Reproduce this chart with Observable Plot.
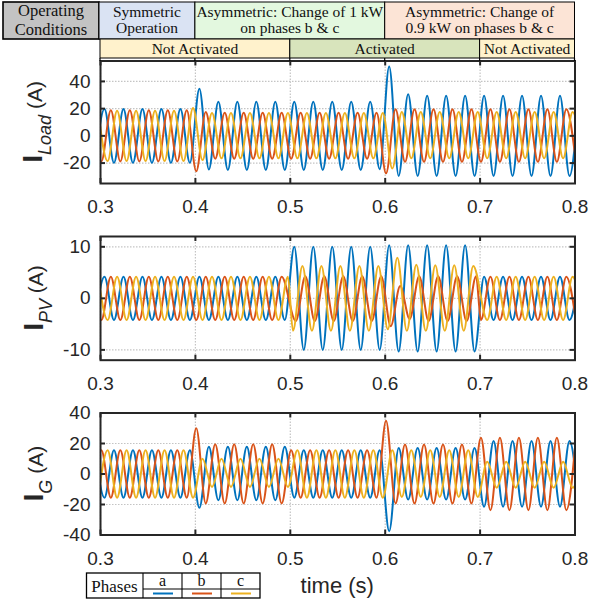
<!DOCTYPE html>
<html><head><meta charset="utf-8">
<script src="https://cdn.jsdelivr.net/npm/d3@7"></script>
<script src="https://cdn.jsdelivr.net/npm/@observablehq/plot@0.6"></script>
<style>
body{margin:0;background:#fff;}
#wrap{position:relative;width:597px;height:603px;overflow:hidden;background:#fff;}
#wrap svg{position:absolute;left:0;}
</style></head><body><div id="wrap"></div>
<script>
// ---- values ----
const HALF = 0.01; // half period of the 50 Hz waveforms (s)
const phases = ["a", "b", "c"];
const phaseColors = ["#0072BD", "#D95319", "#EDB120"];
const xTicks = [0.3, 0.4, 0.5, 0.6, 0.7, 0.8];
const yTicksLoad = [-20, 0, 20, 40];
const yTicksPV = [-10, 0, 10];
const yTicksG = [-40, -20, 0, 20, 40];
const conditionBounds = [0.3, 0.4, 0.6, 0.8];
const conditionLabels = [["Symmetric", "Operation"], ["Asymmetric: Change of 1 kW", "on phases b & c"], ["Asymmetric: Change of", "0.9 kW on phases b & c"]];
const conditionFills = ["#dae3f3", "#e3f8df", "#fce4d6"];
const controlBounds = [0.3, 0.5, 0.7, 0.8];
const controlLabels = ["Not Activated", "Activated", "Not Activated"];
const controlFills = ["#fff2cc", "#d8e4bc", "#fff2cc"];

// successive extrema (peaks / troughs) of each phase current, A
const loadA_start = 0.2942;
const loadA = [-19.8, 19.8, -19.8, 19.8, -19.8, 19.8, -19.8, 19.8, -19.8, 19.8, -19.8,
  34.6, -24.7,
  25, -25, 25, -25, 25, -25, 25, -25, 25, -25, 25, -25, 25, -25, 25, -25, 25,
  -24.5,
  51, -29.4, 30.5,
  -29.5, 29.5, -29.5, 29.5, -29.5, 29.5, -29.5, 29.5, -29.5, 29.5, -29.5, 29.5, -29.5, 29.5, -29.5, 29.5, -29.5, 29.5];
const loadB_start = 0.2909;
const loadB = [18.8, -18.8, 18.8, -18.8, 18.8, -18.8, 18.8, -18.8, 18.8, -18.8, 18.8,
  -26,
  17.5, -16.8, 17, -16.8, 17, -16.8, 17, -16.8, 17, -16.8, 17, -16.8, 17, -16.8, 17, -16.8, 17, -16.8, 17,
  -27.5,
  19.5, -19, 19.5, -19, 19.5, -19, 19.5, -19, 19.5, -19, 19.5, -19, 19.5, -19, 19.5, -19, 19.5, -19, 19.5, -19];
const loadC_start = 0.2975;
const loadC = [18.5, -18.5, 18.5, -18.5, 18.5, -18.5, 18.5, -18.5, 18.5, -18.5,
  20.5, -17.8,
  16.8, -16.5, 16.8, -16.5, 16.8, -16.5, 16.8, -16.5, 16.8, -16.5, 16.8, -16.5, 16.8, -16.5, 16.8, -16.5, 16.8, -16.5, 16.8,
  -24,
  17.5, -16.5, 17.5, -16.5, 17.5, -16.5, 17.5, -16.5, 17.5, -16.5, 17.5, -16.5, 17.5, -16.5, 17.5, -16.5, 17.5, -16.5, 17.5, -16.5];

const pvA_start = 0.2942;
const pvA = [-4.2, 4.2, -4.2, 4.2, -4.2, 4.2, -4.2, 4.2, -4.2, 4.2, -4.2, 4.2, -4.2, 4.2, -4.2, 4.2, -4.2, 4.2, -4.2, 4.2, -4.2,
  10, -10, 10, -10, 10, -10, 10, -10, 10, -10,
  10.3, -10.3, 10.3, -10.3, 10.3, -10.3, 10.3, -10.3, 10.3, -10.3,
  4.2, -4.2, 4.2, -4.2, 4.2, -4.2, 4.2, -4.2, 4.2, -4.2, 4.2];
const pvB1_start = 0.2909;
const pvB1 = [4.2, -4.2, 4.2, -4.2, 4.2, -4.2, 4.2, -4.2, 4.2, -4.2, 4.2, -4.2, 4.2, -4.2, 4.2, -4.2, 4.2, -4.2, 4.2, -4.2, 4.2];
const pvB2_start = 0.5058;
const pvB2 = [-4.4, 4.3, -4.4, 4.3, -4.4, 4.3, -4.4, 4.3, -4.4, 4.3, -5.4, 2.4, -4.0, 4.3, -4.4, 4.3, -4.4, 4.3, -4.4, 4.3];
const pvB3_start = 0.7009;
const pvB3 = [-4.2, 4.2, -4.2, 4.2, -4.2, 4.2, -4.2, 4.2, -4.2, 4.2, -4.2];
const pvC1_start = 0.2975;
const pvC1 = [4.2, -4.2, 4.2, -4.2, 4.2, -4.2, 4.2, -4.2, 4.2, -4.2, 4.2, -4.2, 4.2, -4.2, 4.2, -4.2, 4.2, -4.2, 4.2, -4.2, 4.2];
const pvC2_start = 0.5028;
const pvC2 = [-6.3, 6.3, -6.3, 6.3, -6.3, 6.3, -6.3, 6.3, -6.3, 6.3, -6.0, 7.9, -6.3, 6.5, -6.3, 6.4, -6.3, 6.4, -6.3, 6.3];
const pvC3_start = 0.7075;
const pvC3 = [-4.2, 4.2, -4.2, 4.2, -4.2, 4.2, -4.2, 4.2, -4.2, 4.2, -4.2];

const gridA_start = 0.2942;
const gridA = [15.5, -15.5, 15.5, -15.5, 15.5, -15.5, 15.5, -15.5, 15.5, -15.5, 15.5,
  -22.2,
  17.8, -17.2, 17.8, -17.2, 17.8, -17.2, 17.8, -17.2, 17.8,
  -15.5, 15.5, -15.5, 15.5, -15.5, 15.5, -15.5, 15.5, -15.5, 15.5,
  -37.5,
  17, -16.8, 17, -16.8, 17, -16.8, 17, -16.8, 17,
  -21.5, 21.7, -21.5, 21.7, -21.5, 21.7, -21.5, 21.7, -21.5, 21.7, -21.5];
const gridB_start = 0.2909;
const gridB = [-15.5, 15.5, -15.5, 15.5, -15.5, 15.5, -15.5, 15.5, -15.5, 15.5, -15.5,
  30,
  -19.3, 19.5, -19.3, 19.5, -19.3, 19.5, -19.3, 19.5, -19.3,
  15.5, -15.5, 15.5, -15.5, 15.5, -15.5, 15.5, -15.5, 15.5, -15.5,
  35,
  -19.3, 19.3, -19.3, 19.3, -19.3, 19.3, -19.3, 19.3, -19.3,
  23.7, -23.7, 23.7, -23.7, 23.7, -23.7, 23.7, -23.7, 23.7, -23.7, 23.7];
const gridC_start = 0.2975;
const gridC = [-15.5, 15.5, -15.5, 15.5, -15.5, 15.5, -15.5, 15.5, -15.5, 15.5, -15.5,
  10, -8.5, 10, -8.5, 10, -8.5, 10, -8.5, 10, -8.5,
  15.5, -15.5, 15.5, -15.5, 15.5, -15.5, 15.5, -15.5, 15.5, -15.5,
  15.5, -15, 15.5, -15, 15.5, -15, 15.5, -15, 15.5, -15,
  8, -9, 8, -9, 8, -9, 8, -9, 8, -9, 8];

// ---- build tables ----
function rows(phase, start, values) {
  return values.map((v, i) => ({phase, t: start + i * HALF, v}));
}
const loadData = [...rows("a", loadA_start, loadA), ...rows("b", loadB_start, loadB), ...rows("c", loadC_start, loadC)];
const pvData = [...rows("a", pvA_start, pvA),
  ...rows("b", pvB1_start, pvB1), ...rows("b", pvB2_start, pvB2), ...rows("b", pvB3_start, pvB3),
  ...rows("c", pvC1_start, pvC1), ...rows("c", pvC2_start, pvC2), ...rows("c", pvC3_start, pvC3)];
const gridData = [...rows("a", gridA_start, gridA), ...rows("b", gridB_start, gridB), ...rows("c", gridC_start, gridC)];

const wrap = document.getElementById("wrap");
const SANS = "'Liberation Sans', Arial, Helvetica, sans-serif";
const SERIF = "'Liberation Serif', 'Times New Roman', serif";
const INK = "#262626";

function panel({data, yDomain, yTicks, top, mt, fh, sub, labelX}) {
  const mb = 40, ml = 100, mr = 22.5, W = 597;
  const fw = W - ml - mr;
  const p = Plot.plot({
    width: W, height: mt + fh + mb,
    marginLeft: ml, marginRight: mr, marginTop: mt, marginBottom: mb,
    style: {background: "none", fontFamily: SANS, fontSize: "19px", color: INK, overflow: "visible"},
    x: {domain: [0.3, 0.8], axis: null},
    y: {domain: yDomain, axis: null},
    color: {domain: phases, range: phaseColors},
    marks: [
      Plot.ruleX(xTicks, {x: d => d, stroke: "#c4c4c4", strokeWidth: 1.2, strokeDasharray: "1.5,1.5"}),
      Plot.ruleY(yTicks, {y: d => d, stroke: "#c4c4c4", strokeWidth: 1.2, strokeDasharray: "1.5,1.5"}),
      Plot.line(data, {x: "t", y: "v", z: "phase", stroke: "phase", curve: "monotone-x", strokeWidth: 2, clip: true}),
      Plot.frame({stroke: INK, strokeWidth: 2}),
      Plot.tickX(xTicks, {x: d => d, stroke: INK, strokeWidth: 2, insetTop: fh - 5}),
      Plot.tickX(xTicks, {x: d => d, stroke: INK, strokeWidth: 2, insetBottom: fh - 5}),
      Plot.tickY(yTicks, {y: d => d, stroke: INK, strokeWidth: 2, insetRight: fw - 5}),
      Plot.tickY(yTicks, {y: d => d, stroke: INK, strokeWidth: 2, insetLeft: fw - 5}),
      Plot.axisX(xTicks, {tickSize: 0, tickPadding: 16, tickFormat: d => d.toFixed(1), fontSize: 19, label: null}),
      Plot.axisY(yTicks, {tickSize: 0, tickPadding: 10, tickFormat: d => String(d), fontSize: 19, label: null})
    ]
  });
  p.style.top = top + "px";
  const t = d3.select(p).append("text")
    .attr("transform", `translate(${labelX},${mt + fh / 2}) rotate(-90)`)
    .attr("text-anchor", "middle").attr("fill", INK).attr("font-family", SANS);
  t.append("tspan").attr("font-size", 27).attr("font-weight", "bold").text("I");
  t.append("tspan").attr("font-size", 18).attr("font-style", "italic").attr("dy", 9).text(sub);
  t.append("tspan").attr("font-size", 21).attr("dy", -9).text("\u00a0(A)");
  wrap.appendChild(p);
  return p;
}

const p1 = panel({data: loadData, yDomain: [-35, 55], yTicks: yTicksLoad, top: 58, mt: 2.5, fh: 122.5, sub: "Load", labelX: 42});
panel({data: pvData, yDomain: [-12, 12], yTicks: yTicksPV, top: 232, mt: 4, fh: 123.7, sub: "PV", labelX: 43});
panel({data: gridData, yDomain: [-40, 40], yTicks: yTicksG, top: 408, mt: 4.5, fh: 122, sub: "G", labelX: 43});

// ---- header table, legend, x title ----
const sx = p1.scale("x");
const X = v => sx.apply(v);
const ov = d3.create("svg").attr("width", 597).attr("height", 603)
  .style("top", "0px").style("pointer-events", "none");

ov.append("rect").attr("x", 3).attr("y", 2).attr("width", 96).attr("height", 37)
  .attr("fill", "#c3c3c3").attr("stroke", "#000").attr("stroke-width", 1.6);
[["Operating", 16], ["Conditions", 35]].forEach(([s, y]) =>
  ov.append("text").attr("x", 51).attr("y", y).attr("text-anchor", "middle")
    .attr("font-family", SERIF).attr("font-size", 16.5).attr("fill", "#111").text(s));

conditionLabels.forEach((lines, i) => {
  const x1 = X(conditionBounds[i]) - (i === 0 ? 1 : 0), x2 = X(conditionBounds[i + 1]);
  ov.append("rect").attr("x", x1).attr("y", 2).attr("width", x2 - x1).attr("height", 37)
    .attr("fill", conditionFills[i]).attr("stroke", "#000").attr("stroke-width", 1);
  lines.forEach((s, j) =>
    ov.append("text").attr("x", (x1 + x2) / 2).attr("y", 17 + j * 16).attr("text-anchor", "middle")
      .attr("font-family", SERIF).attr("font-size", 15.5).attr("fill", "#111").text(s));
});
controlLabels.forEach((s, i) => {
  const x1 = X(controlBounds[i]), x2 = X(controlBounds[i + 1]);
  ov.append("rect").attr("x", x1).attr("y", 39).attr("width", x2 - x1).attr("height", 19)
    .attr("fill", controlFills[i]).attr("stroke", "#000").attr("stroke-width", 1);
  ov.append("text").attr("x", (x1 + x2) / 2).attr("y", 53.5).attr("text-anchor", "middle")
    .attr("font-family", SERIF).attr("font-size", 15.5).attr("fill", "#111").text(s);
});
xTicks.forEach(v => ov.append("line").attr("x1", X(v)).attr("x2", X(v)).attr("y1", 58).attr("y2", 61)
  .attr("stroke", "#000").attr("stroke-width", 1.2));

// legend table
ov.append("rect").attr("x", 86.5).attr("y", 573).attr("width", 173.5).attr("height", 25)
  .attr("fill", "#fff").attr("stroke", "#000").attr("stroke-width", 1.3);
ov.append("text").attr("x", 114.5).attr("y", 592).attr("text-anchor", "middle")
  .attr("font-family", SERIF).attr("font-size", 17).attr("fill", "#111").text("Phases");
ov.append("line").attr("x1", 143).attr("x2", 260).attr("y1", 589).attr("y2", 589).attr("stroke", "#000").attr("stroke-width", 1.1);
phases.forEach((ph, i) => {
  const x0 = 143 + i * 39;
  ov.append("line").attr("x1", x0).attr("x2", x0).attr("y1", 573).attr("y2", 598).attr("stroke", "#000").attr("stroke-width", 1.1);
  ov.append("text").attr("x", x0 + 19.5).attr("y", 586).attr("text-anchor", "middle")
    .attr("font-family", SERIF).attr("font-size", 16).attr("fill", "#111").text(ph);
  ov.append("line").attr("x1", x0 + 10).attr("x2", x0 + 30).attr("y1", 593.5).attr("y2", 593.5)
    .attr("stroke", phaseColors[i]).attr("stroke-width", 2);
});

ov.append("text").attr("x", (X(0.3) + X(0.8)) / 2).attr("y", 593).attr("text-anchor", "middle")
  .attr("font-family", SANS).attr("font-size", 22).attr("fill", INK).text("time (s)");

wrap.appendChild(ov.node());
</script></body></html>
